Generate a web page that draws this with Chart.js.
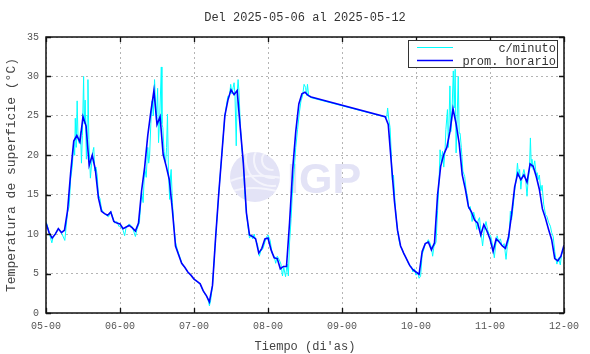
<!DOCTYPE html>
<html>
<head>
<meta charset="utf-8">
<script src="https://cdn.jsdelivr.net/npm/chart.js@4.4.1/dist/chart.umd.min.js"></script>
<style>
  html, body { margin: 0; padding: 0; background: #fff; }
  #wrap { width: 590px; height: 354px; }
</style>
</head>
<body>
<div id="wrap"><canvas id="chart" width="590" height="354"></canvas></div>
<script>
// Del 2025-05-06 al 2025-05-12, temperatura de superficie
const titleText = "Del 2025-05-06 al 2025-05-12";
const dayLabels = ["05-00", "06-00", "07-00", "08-00", "09-00", "10-00", "11-00", "12-00"];
const yTicks = [0, 5, 10, 15, 20, 25, 30, 35];

// promedio horario, one value per hour from 05-00 (null = no data)
const hourTemps = [
  11.4, 10.2, 9.5, 10.0, 10.7, 10.2, 10.5, 13.0, 17.8, 21.8, 22.5, 21.7,
  24.9, 23.7, 18.7, 20.0, 18.2, 14.6, 12.9, 12.6, 12.4, 12.8, 11.6, 11.4,
  11.3, 10.7, 10.9, 11.1, 10.8, 10.4, 11.4, 15.5, 18.5, 22.5, 25.5, 28.2,
  23.9, 24.9, 20.1, 18.6, 16.9, 13.0, 8.5, 7.4, 6.3, 5.8, 5.2, 4.8,
  4.3, 4.0, 3.7, 2.8, 2.2, 1.4, 3.5, 9.5, 15.0, 20.0, 25.0, 27.0,
  28.3, 27.7, 28.2, 23.5, 19.0, 12.7, 9.9, 9.7, 9.4, 7.6, 8.2, 9.4,
  9.5, 8.0, 7.0, 6.9, 5.6, 5.9, 5.9, 11.5, 18.2, 23.0, 26.5, 27.8,
  28.0, 27.6, 27.4,
  null, null, null, null, null, null, null, null, null, null, null, null,
  null, null, null, null, null, null, null, null, null, null, null,
  24.9, 23.9, 19.0, 14.2, 10.5, 8.5, 7.6, 6.8, 6.0, 5.5,
  5.2, 4.9, 7.8, 8.8, 9.0, 8.0, 8.9, 15.0, 18.6, 20.1, 21.0, 23.0,
  25.9, 24.0, 21.5, 17.5, 15.7,
  13.5, 12.8, 11.8, 11.4, 9.9, 11.2, 10.4, 9.4, 7.8, 9.4, 9.0, 8.5,
  8.2, 9.6, 12.5, 16.0, 17.7, 16.9, 17.5, 16.6, 18.9, 18.6, 17.3, 15.7,
  13.2, 12.0, 10.6, 9.3, 6.9, 6.6, 7.2, 8.6
];

// c/minuto samples: [hours since 05-00, value]
const minuteSamples = [
  [0,11.6],[0.5,11],[1,10.2],[1.9,8.9],[2.3,9.6],[3,10],[4,10.7],[5,10.2],[6.1,9.2],[6.4,10.4],
  [7,12.8],[7.5,13.5],[8,17],[8.5,18.5],[9,21.5],[9.3,20],[9.5,24.7],[9.8,21],[10.1,26.9],[10.4,22],
  [10.8,21.5],[11.2,23],[11.5,19],[11.8,22.5],[12.2,30],[12.4,24],[12.7,27],[13.1,19.5],[13.4,25],[13.6,29.6],
  [13.9,22],[14.4,17.1],[14.8,19],[15.2,20.5],[15.5,21],[15.8,18],[16.2,18.5],[16.6,17.5],[17,15],[17.5,14.5],
  [18,13.2],[18.7,12.7],[19.5,12.4],[20.3,12.2],[21,12.9],[21.7,12.1],[22.3,11.4],[23,11.6],[23.6,11],
  [24.3,11],[25,10.5],[25.5,9.8],[26,10.9],[27,11.3],[28,10.9],[29,9.7],[29.5,10.6],[30.3,11.5],[31,15.4],
  [31.5,14],[32,18.5],[32.5,17.2],[33,21],[33.3,19],[33.6,19.9],[34,24],[34.4,26.9],[34.8,25],[35.2,29.6],
  [35.5,27],[35.8,24.5],[36.2,28.5],[36.5,21.6],[36.9,25],[37.4,31.2],[37.6,24],[37.9,23.5],[38.3,20.5],[38.8,19],
  [39.1,21],[39.4,25.2],[39.7,18],[40.1,14.4],[40.4,17.5],[40.6,18.2],[41,14],[41.5,11],[42,9],[42.5,8.2],
  [43,7.6],[43.5,7.0],[44,6.4],[44.5,6.0],[45,5.8],[45.5,5.5],[46,5.2],[46.5,5.0],[47,4.8],[47.5,4.5],
  [48,4.3],[48.5,4.1],[49,4.0],[49.5,3.8],[50,3.7],[50.5,3.2],[51,2.8],[51.5,2.4],[52,2.2],[52.5,1.8],
  [53,0.9],[53.4,1.6],[54,3.5],[55,9.5],[56,15],[57,20],[58,25],[58.5,26.3],[59,27.5],[59.5,27.5],
  [59.9,29],[60.3,27.8],[60.7,28.6],[61,29.2],[61.3,27.5],[61.7,21.2],[62,28],[62.3,29.6],[62.6,28],[63,24],
  [63.5,21],[64,19],[64.5,15],[65,12.7],[65.5,11],[66,9.5],[66.5,9.9],[67,9.4],[67.5,10],[68,9.2],
  [68.6,8.7],[69.2,7.2],[69.6,7.8],[70.4,8.2],[71,9],[71.5,9.6],[72,9.9],[72.7,9.2],[73.3,7.6],[74,7.2],
  [74.5,6.3],[75,7.2],[75.6,6.8],[76.2,6.2],[76.7,4.7],[77.1,5.8],[77.7,4.6],[78.2,6.2],[78.6,4.7],[79,9],
  [79.5,12],[80,16],[80.5,18.2],[81,21],[81.6,23.3],[82.2,25.5],[82.7,26.9],[83.2,27.5],[83.7,29],[84.2,28.6],
  [84.5,27.6],[84.8,29],[85.2,27.5],[86,27.3],
  [110.5,24.8],[110.8,26],[111.2,24.5],[111.6,23.5],[112,20],[112.3,16.9],[112.7,17.5],[113.2,14],[113.6,12],[114,10.6],
  [114.5,9.2],[115,8.4],[115.5,8.1],[116,7.5],[116.5,7.2],[117,6.8],[117.5,6.3],[118,6],[118.5,5.9],[119,5.2],
  [119.5,5.6],[120,4.8],[120.5,5.2],[121,4.4],[121.5,4.7],[122,7.4],[122.5,8],[123,8.8],[123.5,8.9],[124,9.3],
  [124.5,8.9],[125,8.3],[125.4,7.2],[125.8,8.4],[126.5,9],[127,13],[127.5,17],[127.8,20.7],[128.2,19],[128.6,20.5],
  [129,18.5],[129.4,20.5],[129.7,23.3],[130.2,25.8],[130.5,21],[131,28.8],[131.3,23],[131.6,24.5],[132.1,30.7],[132.4,26],
  [132.7,30.9],[133,20.3],[133.3,24],[133.7,30],[134,22.8],[134.3,22.8],[134.7,21],[135.2,18],[135.8,17.3],[136.3,15.5],
  [136.8,14.5],[137.1,13.2],[137.6,13.5],[138.2,11.6],[138.7,12.8],[139.2,12],[139.7,10.6],[140.2,11.8],[140.6,12.1],[141,10.5],
  [141.6,8.5],[142.1,10.5],[142.7,11.6],[143.2,10.6],[143.6,10.1],[144.2,9.8],[144.7,8.9],[145,8.2],[145.4,7],[145.8,8.5],
  [146.3,9.8],[146.8,9.1],[147.4,9.4],[147.8,8.6],[148.1,8.5],[148.6,8.8],[149.2,6.8],[149.6,8.4],[150.2,9.6],[150.6,12.9],
  [151,11.8],[151.5,13.5],[152,15.5],[152.5,17],[152.9,19],[153.3,17.3],[153.6,18.2],[154,15.7],[154.4,17.2],[155,18.2],
  [155.5,17.3],[156,14.8],[156.4,17],[156.8,18.2],[157.1,22.2],[157.4,18.5],[157.6,19.5],[158,18.2],[158.5,19.3],[159,17.5],
  [159.3,17.8],[159.6,16.9],[160,17.5],[160.5,15.5],[160.9,16.2],[161.4,13.8],[162,12.5],[162.5,12.2],[163,11.5],[163.6,11],
  [164,10.2],[164.5,9.7],[165,7.8],[165.3,7],[165.7,6.2],[166.2,7],[166.8,6.1],[167.2,7.4],[167.6,7.8],[168,8.5]
];

const seriesNames = ["c/minuto", "prom. horario"];
const seriesColors = ["#00ffff", "#0000ff"];

const mono = "'Liberation Mono', 'DejaVu Sans Mono', monospace";

// frame, inward ticks, IGP watermark, title and legend (gnuplot look)
const decorPlugin = {
  id: "decor",
  beforeDatasetsDraw(chart) {
    const ctx = chart.ctx;
    ctx.save();
    // watermark logo
    ctx.fillStyle = "#e3e3f6";
    ctx.beginPath();
    ctx.arc(255, 177, 25, 0, Math.PI * 2);
    ctx.fill();
    ctx.save();
    ctx.beginPath();
    ctx.arc(255, 177, 25, 0, Math.PI * 2);
    ctx.clip();
    ctx.strokeStyle = "#f4f4fc";
    ctx.lineWidth = 2;
    [10, 18, 26].forEach(r => {
      ctx.beginPath();
      ctx.arc(272, 160, r, Math.PI * 0.45, Math.PI * 1.25);
      ctx.stroke();
    });
    ctx.beginPath();
    ctx.moveTo(228, 182);
    ctx.quadraticCurveTo(250, 172, 282, 178);
    ctx.stroke();
    ctx.beginPath();
    ctx.moveTo(230, 192);
    ctx.quadraticCurveTo(252, 184, 280, 192);
    ctx.stroke();
    ctx.restore();
    ctx.fillStyle = "#e3e3f6";
    ctx.font = "bold 43px 'Liberation Sans', Arial, sans-serif";
    ctx.textBaseline = "alphabetic";
    ctx.textAlign = "left";
    ctx.fillText("IGP", 287, 193);
    ctx.restore();
  },
  afterDatasetsDraw(chart) {
    const ctx = chart.ctx;
    const a = chart.chartArea;
    const xs = chart.scales.x, ys = chart.scales.y;
    ctx.save();
    // frame
    ctx.strokeStyle = "#111";
    ctx.lineWidth = 1.5;
    ctx.strokeRect(a.left, a.top, a.right - a.left, a.bottom - a.top);
    // inward ticks
    ctx.beginPath();
    dayLabels.forEach((lab, i) => {
      const px = Math.round(xs.getPixelForValue(i * 24)) + 0.5;
      ctx.moveTo(px, a.bottom); ctx.lineTo(px, a.bottom - 5);
      ctx.moveTo(px, a.top); ctx.lineTo(px, a.top + 5);
    });
    yTicks.forEach(v => {
      const py = Math.round(ys.getPixelForValue(v)) + 0.5;
      ctx.moveTo(a.left, py); ctx.lineTo(a.left + 5, py);
      ctx.moveTo(a.right, py); ctx.lineTo(a.right - 5, py);
    });
    ctx.lineWidth = 1.3;
    ctx.stroke();

    // title
    ctx.fillStyle = "#333";
    ctx.font = "12px " + mono;
    ctx.textAlign = "center";
    ctx.textBaseline = "middle";
    ctx.fillText(titleText, (a.left + a.right) / 2, 18);

    // legend
    const bx = 408.5, by = 40.5, bw = 149, bh = 27;
    ctx.fillStyle = "#fff";
    ctx.fillRect(bx, by, bw, bh);
    ctx.strokeStyle = "#333";
    ctx.lineWidth = 1;
    ctx.strokeRect(bx, by, bw, bh);
    ctx.font = "12px " + mono;
    ctx.textAlign = "right";
    ctx.fillStyle = "#333";
    const rows = [47.5, 60.5];
    seriesNames.forEach((name, i) => {
      ctx.strokeStyle = seriesColors[i];
      ctx.lineWidth = i === 1 ? 1.5 : 1;
      ctx.beginPath();
      ctx.moveTo(417, rows[i]);
      ctx.lineTo(453, rows[i]);
      ctx.stroke();
      ctx.fillText(name, 556, rows[i] + 1);
    });
    ctx.restore();
  }
};

new Chart(document.getElementById("chart"), {
  type: "line",
  data: {
    datasets: [
      {
        label: seriesNames[1],
        data: hourTemps.map((v, i) => ({ x: i, y: v })),
        borderColor: seriesColors[1],
        borderWidth: 1.6,
        pointRadius: 0,
        spanGaps: true,
        tension: 0,
      },
      {
        label: seriesNames[0],
        data: minuteSamples.map(p => ({ x: p[0], y: p[1] })),
        borderColor: seriesColors[0],
        borderWidth: 1,
        pointRadius: 0,
        tension: 0,
      },
    ],
  },
  options: {
    responsive: false,
    animation: false,
    layout: { padding: { left: 0, right: 26, top: 37, bottom: 0 } },
    plugins: {
      legend: { display: false },
      tooltip: { enabled: false },
    },
    scales: {
      x: {
        type: "linear",
        min: 0,
        max: 168,
        afterFit: s => { s.height = 41; },
        afterBuildTicks: s => { s.ticks = dayLabels.map((l, i) => ({ value: i * 24 })); },
        ticks: {
          stepSize: 24,
          padding: 7,
          maxRotation: 0,
          color: "#555",
          font: { family: mono, size: 10 },
          callback: v => dayLabels[v / 24],
        },
        grid: { color: "#b4b4b4", drawTicks: false, lineWidth: 1 },
        border: { display: false, dash: [2, 3] },
        title: {
          display: true,
          text: "Tiempo (di'as)",
          color: "#444",
          font: { family: mono, size: 12 },
          padding: { top: 0, bottom: 0 },
        },
      },
      y: {
        min: 0,
        max: 35,
        afterFit: s => { s.width = 46; },
        afterBuildTicks: s => { s.ticks = yTicks.map(v => ({ value: v })); },
        ticks: {
          stepSize: 5,
          padding: 7,
          color: "#555",
          font: { family: mono, size: 10 },
        },
        grid: { color: "#b4b4b4", drawTicks: false, lineWidth: 1 },
        border: { display: false, dash: [2, 3] },
        title: {
          display: true,
          text: "Temperatura de superficie (°C)",
          color: "#444",
          font: { family: mono, size: 13 },
          padding: { top: 4, bottom: 0 },
        },
      },
    },
  },
  plugins: [decorPlugin],
});
</script>
</body>
</html>
